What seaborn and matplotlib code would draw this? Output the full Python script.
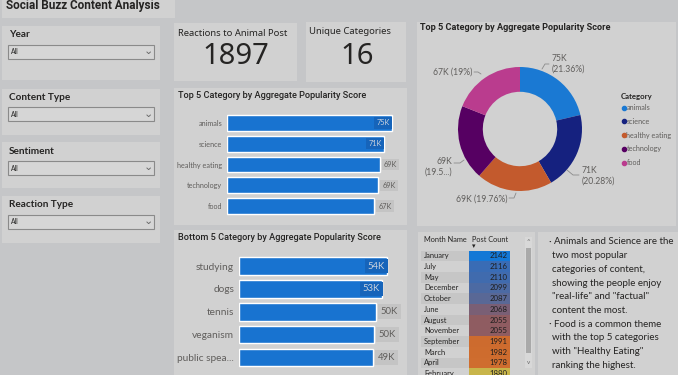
import numpy as np
import pandas as pd
import seaborn as sns
from matplotlib import pyplot as plt
from matplotlib.patches import Rectangle
from matplotlib.colors import LinearSegmentedColormap

# ---- data ----
top_categories = ["animals", "science", "healthy eating", "technology", "food"]
top_scores = [74965, 71168, 69350, 68738, 66676]

bottom_categories = ["studying", "dogs", "tennis", "veganism", "public speaking"]
bottom_scores = [54269, 52511, 50339, 49619, 49264]

months = ["January", "July", "May", "December", "October", "June",
          "August", "November", "September", "March", "April", "February"]
post_counts = [2142, 2116, 2110, 2099, 2087, 2068, 2055, 2055, 1991, 1982, 1978, 1880]

animal_reactions = 1897
unique_categories = 16
slicer_names = ["Year", "Content Type", "Sentiment", "Reaction Type"]

insight_lines = [
    ("Animals and Science are the", True),
    ("two most popular", False),
    ("categories of content,", False),
    ("showing the people enjoy", False),
    ("\"real-life\" and \"factual\"", False),
    ("content the most.", False),
    ("Food is a common theme", True),
    ("with the top 5 categories", False),
    ("with \"Healthy Eating\"", False),
    ("ranking the highest.", False),
]

# ---- styling ----
BG = "#c5c6c8"
PANEL = "#d1d1d1"
TXT = "#252423"
GREY_TXT = "#605e5c"
BAR = "#1873d0"
donut_colors = ["#1a79d3", "#15217f", "#c35a2d", "#560062", "#ba3c8e"]

sns.set_theme(style="white")
plt.rcParams["font.family"] = ["Lato", "DejaVu Sans"]

W, H = 678, 375
fig = plt.figure(figsize=(W / 100, H / 100), dpi=100)
fig.patch.set_facecolor(BG)

base = fig.add_axes([0, 0, 1, 1])
base.set_xlim(0, W)
base.set_ylim(H, 0)
base.axis("off")


def px_axes(x0, y0, x1, y1):
    return fig.add_axes([x0 / W, 1 - y1 / H, (x1 - x0) / W, (y1 - y0) / H])


def panel(x0, y0, x1, y1, color=PANEL):
    base.add_patch(Rectangle((x0, y0), x1 - x0, y1 - y0, fc=color, ec="none"))


def k_fmt(v):
    return f"{v / 1000:.0f}K"


# ---- panels ----
panel(2, 0, 175, 18)
base.text(6, 5, "Social Buzz Content Analysis", fontsize=8.5, fontweight="bold",
          color=TXT, va="center", family="Roboto")

slicer_boxes = [(26, 80, 34.7), (89, 135, 97.3), (142, 188, 151), (196, 243, 204.7)]
for name, (y0, y1, ty) in zip(slicer_names, slicer_boxes):
    panel(2, y0, 160, y1)
    base.text(9, ty, name, fontsize=7.2, fontweight="bold", color=TXT, va="center")
    base.add_patch(Rectangle((8, ty + 10), 146, 14, fc="#d6d6d6", ec="#8a8a8a", lw=0.8))
    base.text(11, ty + 17.3, "All", fontsize=4.8, color=TXT, va="center")
    base.text(148, ty + 16.5, "\u2304", fontsize=8, color="#666", va="center", ha="center",
              family="DejaVu Sans")

# KPI cards
panel(174, 23, 297, 81)
base.text(178, 34, "Reactions to Animal Post", fontsize=6.8, color=TXT, va="center",
          family="Noto Sans")
base.text(236, 57, f"{animal_reactions}", fontsize=21, color=TXT, va="center", ha="center",
          family="Noto Sans")
panel(306, 22, 406, 82)
base.text(309, 32, "Unique Categories", fontsize=6.8, color=TXT, va="center",
          family="Noto Sans")
base.text(357, 57, f"{unique_categories}", fontsize=21, color=TXT, va="center", ha="center",
          family="Noto Sans")

# chart panels
panel(174, 88, 407, 225)
panel(174, 230, 407, 375)
panel(417, 22, 676, 226)
panel(418, 232, 535, 375)
panel(538, 232, 678, 375)


# ---- bar charts ----
def bar_chart(cats, vals, box, xmax, tick_fs, val_fs, title, title_y):
    x0, y0, x1, y1 = box
    base.text(178, title_y, title, fontsize=6.6, fontweight="medium", color=TXT,
              va="center", family="Roboto")
    ax = px_axes(x0, y0, x1, y1)
    df = pd.DataFrame({"category": cats, "score": vals})
    sns.barplot(data=df, x="score", y="category", orient="h", color=BAR,
                saturation=1, width=0.77, ax=ax)
    ax.set_xlim(0, xmax)
    ax.set_facecolor("none")
    for s in ax.spines.values():
        s.set_visible(False)
    ax.set_xticks([])
    ax.set_xlabel("")
    ax.set_ylabel("")
    labels = [c if len(c) < 14 or c == "healthy eating" else c[:11] + "..." for c in cats]
    ax.set_yticks(range(len(cats)))
    ax.set_yticklabels(labels, fontsize=tick_fs, color=GREY_TXT)
    ax.tick_params(axis="y", length=0, pad=3.5)
    vmax = max(vals)
    for i, v in enumerate(vals):
        if v / vmax >= 0.94:
            ax.text(v - xmax * 0.012, i, k_fmt(v), ha="right", va="center",
                    fontsize=val_fs, color="#c9d2de",
                    bbox=dict(boxstyle="square,pad=0.3", fc="#1664ba", ec="none"))
        else:
            ax.text(v + xmax * 0.025, i, k_fmt(v), ha="left", va="center",
                    fontsize=val_fs, color=GREY_TXT,
                    bbox=dict(boxstyle="square,pad=0.3", fc="#c4c4c4", ec="none"))
    return ax


bar_chart(top_categories, top_scores, (227, 112.6, 405, 216.4), 80900, 5.2, 5.3,
          "Top 5 Category by Aggregate Popularity Score", 96)
bar_chart(bottom_categories, bottom_scores, (239, 254.6, 405, 369), 60870, 7.3, 6.8,
          "Bottom 5 Category by Aggregate Popularity Score", 237)

# ---- donut ----
base.text(420, 28, "Top 5 Category by Aggregate Popularity Score", fontsize=6.6,
          fontweight="bold", color=TXT, va="center", family="Roboto")
axd = px_axes(458, 67, 582, 191)
axd.pie(top_scores, colors=donut_colors, startangle=90, counterclock=False,
        wedgeprops=dict(width=0.4, edgecolor="none"), radius=1)
axd.set_xlim(-1, 1)
axd.set_ylim(-1, 1)
axd.set_aspect("equal")

total = sum(top_scores)
pcts = [f"{100 * v / total:.2f}".rstrip("0").rstrip(".") + "%" for v in top_scores]
# label layout: text anchor, alignment, line break, leader points (pixels)
donut_layout = [
    (552, 64, "left", True, [(542, 69), (545, 64), (549, 64)]),
    (582, 175.5, "left", True, [(567, 170), (573, 175), (579, 175)]),
    (507, 199, "right", False, [(516, 193), (514, 198), (509, 198)]),
    (452, 166.5, "right", True, [(464, 160), (460, 163), (454, 163)]),
    (472, 72, "right", False, [(481, 74), (478, 72), (474, 72)]),
]
for i, (v, p) in enumerate(zip(top_scores, pcts)):
    tx, ty, ha, brk, pts = donut_layout[i]
    if top_categories[i] == "technology":
        p = p[:4] + "..."
    label = f"{k_fmt(v)}\n({p})" if brk else f"{k_fmt(v)} ({p})"
    base.text(tx, ty, label, fontsize=6.2, color=GREY_TXT, ha=ha, va="center",
              linespacing=1.2, multialignment="left" if ha == "left" else "right")
    xs, ys = zip(*pts)
    base.plot(xs, ys, color="#8a8a8a", lw=0.6)

base.text(621, 96, "Category", fontsize=5.6, fontweight="bold", color=TXT, va="center")
for i, (c, col) in enumerate(zip(top_categories, donut_colors)):
    y = 107.5 + i * 13.8
    base.scatter([623.5], [y], s=9, color=col, zorder=5)
    base.text(626.5, y, c, fontsize=5.2, color=GREY_TXT, va="center")

# ---- month table ----
row_h = 10.7
row_top = 250.5
base.text(424, 240, "Month Name", fontsize=5.3, color=TXT, va="center")
base.text(472, 240, "Post Count", fontsize=5.3, color=TXT, va="center")
base.text(474, 246, "\u25be", fontsize=5, color=TXT, va="center", ha="center",
          family="DejaVu Sans")
for i, m in enumerate(months):
    yc = row_top + (i + 0.5) * row_h
    if i % 2 == 0:
        base.add_patch(Rectangle((421, row_top + i * row_h), 48, row_h, fc="#c6c6c6", ec="none"))
    base.text(424, yc, m, fontsize=5.4, color=TXT, va="center")

cmap = LinearSegmentedColormap.from_list(
    "pc", [(0, "#c8b54a"), (0.3, "#d2702f"), (0.45, "#cc6a2e"), (0.68, "#8b5b64"),
           (0.8, "#56699a"), (0.9, "#3a6cb4"), (1, "#1478d6")])
axt = px_axes(469, row_top, 510, row_top + len(months) * row_h)
sns.heatmap(np.array(post_counts)[:, None], cmap=cmap, cbar=False, ax=axt,
            xticklabels=False, yticklabels=False)
for i, v in enumerate(post_counts):
    axt.text(0.93, i + 0.5, f"{v}", ha="right", va="center", fontsize=5.6, color="#1e1e1e")

# scrollbar
base.add_patch(Rectangle((525, 237), 7, 131, fc="#d8d8d8", ec="none"))
base.add_patch(Rectangle((526, 248), 5, 105, fc="#a9a9a9", ec="none"))
base.text(528.5, 241.5, "^", fontsize=4.5, color="#666", ha="center", va="center")
base.text(528.5, 363, "v", fontsize=4.5, color="#666", ha="center", va="center")

# ---- insights text ----
for i, (line, bullet) in enumerate(insight_lines):
    y = 242 + i * 13.7
    if bullet:
        base.text(549.5, y, "\u00b7", fontsize=7.5, color=TXT, va="center", ha="center")
        base.text(553.5, y, line, fontsize=7.0, color=TXT, va="center")
    else:
        base.text(552, y, line, fontsize=7.0, color=TXT, va="center")

fig.savefig("out.png", dpi=100, facecolor=BG)
